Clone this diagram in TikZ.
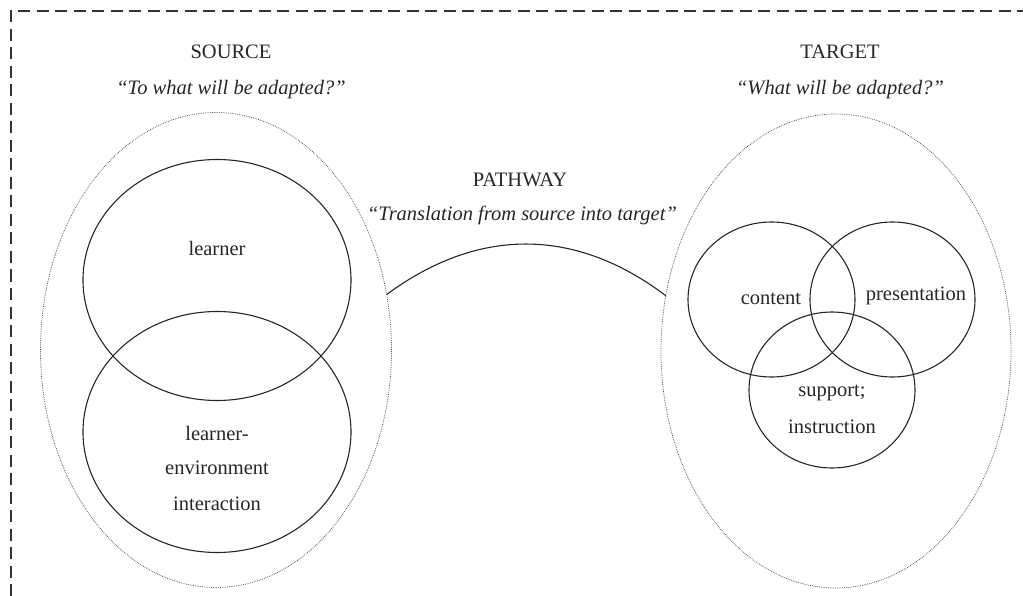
\documentclass[tikz,border=0pt]{standalone}
\usepackage{fontspec}
\setmainfont{Liberation Serif}
\usetikzlibrary{shapes.geometric}
\begin{document}
\begin{tikzpicture}[x=1pt,y=-1pt,
  every node/.style={font=\fontsize{20.5}{24}\selectfont, text=black!85},
  outer/.style={ellipse, draw=black!70, line width=0.75pt, dash pattern=on 0.75pt off 1.05pt, inner sep=0pt, outer sep=0pt},
  circ/.style={ellipse, draw=black!85, line width=1.1pt, inner sep=0pt, outer sep=0pt},
  lbl/.style={inner sep=0pt, anchor=base},
  qt/.style={lbl, font=\fontsize{20.5}{24}\selectfont\itshape}]
\useasboundingbox (0,0) rectangle (1023,596);
% dashed frame
\draw[black!80, line width=1.1pt, dash pattern=on 12pt off 6.5pt] (11,596) -- (11,11) -- (1023,11);
% headings
\node[lbl] (srch) at (231,59) {SOURCE};
\node[qt] (srcq) at (231,95) {``To what will be adapted?''};
\node[lbl] (tgth) at (840,59) {TARGET};
\node[qt] (tgtq) at (840,95) {``What will be adapted?''};
\node[lbl] (pwh) at (520,187) {PATHWAY};
\node[qt] (pwq) at (522,221) {``Translation from source into target''};
% outer ellipses
\node[outer, minimum width=351pt, minimum height=475pt] (src) at (216,350) {};
\node[outer, minimum width=350pt, minimum height=474pt] (tgt) at (836,351) {};
% source circles
\node[circ, minimum width=268pt, minimum height=241pt] (lrn) at (217,280) {};
\node[circ, minimum width=268pt, minimum height=241pt] (lei) at (217,432) {};
\node[lbl] (lrnt) at (217,256) {learner};
\node[lbl] (lei1) at (217,440) {learner-};
\node[lbl] (lei2) at (217,474) {environment};
\node[lbl] (lei3) at (217,510) {interaction};
% target circles
\node[circ, minimum width=167pt, minimum height=155pt] (cnt) at (771.5,299.5) {};
\node[circ, minimum width=165pt, minimum height=155pt] (prs) at (892.5,299.5) {};
\node[circ, minimum width=166pt, minimum height=156pt] (sup) at (832,390) {};
\node[lbl] (cntt) at (771,305) {content};
\node[lbl] (prst) at (916,301) {presentation};
\node[lbl] (sup1) at (832,396) {support;};
\node[lbl] (sup2) at (832,433) {instruction};
% pathway
\draw[black!85, line width=1.1pt] (src.18) .. controls (478,227) and (575,227) .. (tgt.162);
\end{tikzpicture}
\end{document}
